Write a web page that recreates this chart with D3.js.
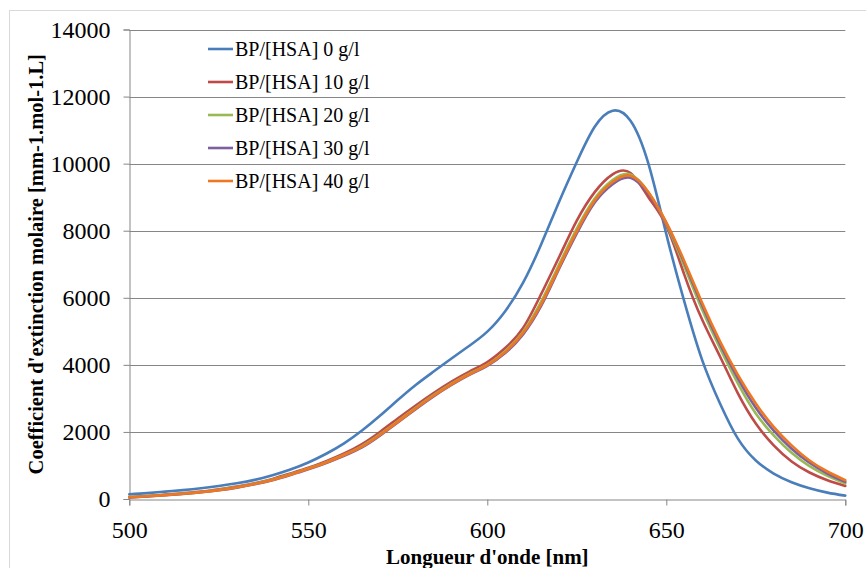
<!DOCTYPE html>
<html>
<head>
<meta charset="utf-8">
<script src="https://cdn.jsdelivr.net/npm/d3@7"></script>
<style>
  html, body { margin: 0; padding: 0; background: #fff; }
  svg { display: block; }
  text { font-family: "Liberation Serif", "Times New Roman", serif; fill: #000; }
</style>
</head>
<body>
<svg id="chart" width="866" height="568"></svg>
<script>
// ---- data ----
const wavelengths = [500,505,510,515,520,525,530,535,540,545,550,555,560,565,570,575,580,585,590,595,600,605,610,615,620,625,630,635,640,645,650,655,660,665,670,675,680,685,690,695,700];

const hsa0  = [140,175,220,265,320,390,470,570,710,880,1090,1350,1660,2040,2480,2950,3400,3800,4190,4570,4990,5600,6450,7580,8850,10050,11100,11580,11280,10000,7900,5900,4150,2850,1800,1150,760,500,320,190,100];
const hsa10 = [60,90,130,170,220,290,370,470,600,760,930,1130,1360,1640,2000,2400,2790,3160,3500,3800,4080,4500,5100,6100,7200,8300,9150,9680,9720,9000,8150,6700,5350,4250,3150,2250,1600,1120,790,560,390];
const hsa20 = [55,85,120,160,210,275,355,455,580,735,910,1100,1320,1580,1930,2320,2720,3100,3440,3740,4010,4410,4990,5880,6980,8060,8960,9510,9680,9150,8200,6950,5650,4500,3450,2550,1900,1380,980,690,460];
const hsa30 = [45,75,110,150,200,260,340,440,560,715,885,1075,1290,1540,1890,2280,2680,3060,3400,3700,3970,4350,4910,5750,6850,7920,8840,9390,9580,9100,8230,7050,5780,4620,3600,2720,2040,1500,1080,760,510];
const hsa40 = [50,80,115,155,205,265,345,445,570,725,900,1090,1310,1560,1910,2300,2700,3080,3420,3720,3990,4380,4950,5800,6900,7980,8900,9450,9640,9150,8250,7100,5850,4700,3700,2850,2150,1600,1150,820,560];

const seriesNames = ["BP/[HSA] 0 g/l","BP/[HSA] 10 g/l","BP/[HSA] 20 g/l","BP/[HSA] 30 g/l","BP/[HSA] 40 g/l"];
const seriesValues = [hsa0, hsa10, hsa20, hsa30, hsa40];
const seriesColors = ["#4A7EBB","#BE4B48","#98B954","#7D60A0","#EE7722"];

const xTicks = [500,550,600,650,700];
const yTicks = [0,2000,4000,6000,8000,10000,12000,14000];

// ---- layout ----
const svg = d3.select("#chart");
const pLeft = 129.3, pRight = 845.3, pTop = 29.5, pBottom = 499;
const serif = "Liberation Serif, Times New Roman, serif";

const x = d3.scaleLinear().domain([500,700]).range([pLeft,pRight]);
const y = d3.scaleLinear().domain([0,14000]).range([pBottom,pTop]);

// outer chart border
svg.append("rect").attr("x",9.5).attr("y",10.5).attr("width",880).attr("height",600)
  .attr("fill","none").attr("stroke","#D9D9D9").attr("stroke-width",1);

// gridlines
svg.append("g").selectAll("line").data(yTicks.filter(d=>d>0)).join("line")
  .attr("x1",pLeft).attr("x2",pRight)
  .attr("y1",d=>Math.round(y(d))+0.5).attr("y2",d=>Math.round(y(d))+0.5)
  .attr("stroke","#868686").attr("stroke-width",1);

// y axis
const yAxis = svg.append("g").attr("transform",`translate(${Math.round(pLeft)+0.5},0)`)
  .call(d3.axisLeft(y).tickValues(yTicks).tickSize(6).tickPadding(13).tickFormat(d3.format("d")))
  .attr("font-family",serif).attr("font-size",24);
yAxis.select(".domain").attr("stroke","#868686");
yAxis.selectAll(".tick line").attr("stroke","#868686");
yAxis.selectAll(".tick text").attr("fill","#000");

// x axis
const xAxis = svg.append("g").attr("transform",`translate(0,${Math.round(pBottom)+0.5})`)
  .call(d3.axisBottom(x).tickValues(xTicks).tickSize(6).tickPadding(15).tickFormat(d3.format("d")))
  .attr("font-family",serif).attr("font-size",24);
xAxis.select(".domain").attr("stroke","#868686");
xAxis.selectAll(".tick line").attr("stroke","#868686");
xAxis.selectAll(".tick text").attr("fill","#000");

// lines
const line = d3.line().x((d,i)=>x(wavelengths[i])).y(d=>y(d)).curve(d3.curveNatural);
svg.append("g").selectAll("path").data(seriesValues).join("path")
  .attr("d",d=>line(d)).attr("fill","none")
  .attr("stroke",(d,i)=>seriesColors[i]).attr("stroke-width",2.6)
  .attr("stroke-linejoin","round").attr("stroke-linecap","round");

// legend
const legend = svg.append("g");
seriesNames.forEach((name,i)=>{
  const ly = 49 + i*33;
  legend.append("line").attr("x1",208).attr("x2",233).attr("y1",ly).attr("y2",ly)
    .attr("stroke",seriesColors[i]).attr("stroke-width",2.6);
  legend.append("text").attr("x",235).attr("y",ly).attr("dy","0.35em")
    .style("font-size","20px").text(name);
});

// axis titles
svg.append("text").attr("x",(pLeft+pRight)/2).attr("y",564).attr("text-anchor","middle")
  .style("font-size","21px").style("font-weight","bold").text("Longueur d'onde [nm]");
svg.append("text").attr("transform",`translate(43,${(pTop+pBottom)/2}) rotate(-90)`).attr("text-anchor","middle")
  .style("font-size","20.5px").style("font-weight","bold").text("Coefficient d'extinction molaire [mm-1.mol-1.L]");
</script>
</body>
</html>
